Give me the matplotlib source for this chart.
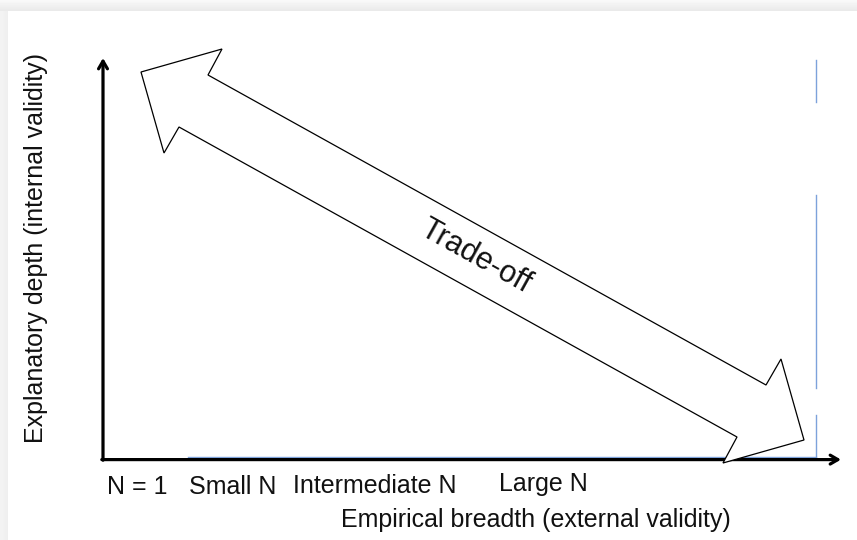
import numpy as np
import matplotlib
matplotlib.use("Agg")
import matplotlib.pyplot as plt
from matplotlib.patches import Polygon

plt.rcParams['font.family'] = ['Liberation Sans', 'DejaVu Sans']

# ---- content -------------------------------------------------------------
category_labels = ["N = 1", "Small N", "Intermediate N", "Large N"]
category_x = [137, 233, 375, 543]          # label centres (canvas px)
category_baseline = [494, 494, 493, 491]
x_title = "Empirical breadth (external validity)"
y_title = "Explanatory depth (internal validity)"
arrow_text = "Trade-off"

# double-headed block arrow outline (canvas px, y down)
arrow_x = [141, 222, 208, 766, 781, 804, 723, 737, 179, 164]
arrow_y = [72, 49, 75, 385, 359, 440, 463, 437, 127, 153]

# axes geometry
origin = (103, 459)
y_axis_top = 58
x_axis_right = 841

# blue guide lines
blue_h = ([188, 816], [456.8, 456.8])
blue_v_x = 816.5
blue_v_segments = [(60, 102), (195, 388), (415, 457)]

W, H = 857, 540
fig = plt.figure(figsize=(W / 100, H / 100), dpi=100)
fig.patch.set_facecolor("white")
ax = fig.add_axes([0, 0, 1, 1])
ax.set_xlim(0, W)
ax.set_ylim(H, 0)
ax.axis("off")

# grey frame (page background)
top = np.linspace(0.975, 0.915, 11).reshape(-1, 1)
ax.imshow(np.repeat(top, 2, axis=1), cmap="gray", vmin=0, vmax=1,
          extent=[0, W, 11, 0], aspect="auto", zorder=0)
left = np.linspace(0.955, 0.935, 8).reshape(1, -1)
ax.imshow(np.repeat(left, 2, axis=0), cmap="gray", vmin=0, vmax=1,
          extent=[0, 8, H, 11], aspect="auto", zorder=0)
ax.set_xlim(0, W)
ax.set_ylim(H, 0)

blue = "#7da2db"
# blue lines
ax.plot(blue_h[0], blue_h[1], color=blue, lw=1.0, zorder=2)
for y0, y1 in blue_v_segments:
    ax.plot([blue_v_x, blue_v_x], [y0, y1], color=blue, lw=1.0, zorder=2)

# axes arrows
ax.annotate("", xy=(origin[0], y_axis_top), xytext=(origin[0], origin[1] + 1.2),
            arrowprops=dict(arrowstyle="->,head_length=0.55,head_width=0.32",
                            lw=2.3, color="black", shrinkA=0, shrinkB=0),
            zorder=3)
ax.annotate("", xy=(x_axis_right, origin[1] + 0.6), xytext=(origin[0] - 1.2, origin[1] + 0.6),
            arrowprops=dict(arrowstyle="->,head_length=0.55,head_width=0.32",
                            lw=2.3, color="black", shrinkA=0, shrinkB=0),
            zorder=3)

# block arrow
poly = Polygon(np.column_stack([arrow_x, arrow_y]), closed=True,
               facecolor="white", edgecolor="black", lw=0.9, zorder=4,
               joinstyle="miter")
ax.add_patch(poly)

angle = np.degrees(np.arctan2(arrow_y[3] - arrow_y[2], arrow_x[3] - arrow_x[2]))
ax.text(475.5, 256.5, arrow_text, fontsize=22, rotation=-angle,
        rotation_mode="anchor", ha="center", va="center", color="#111111",
        zorder=5)

# category labels
for lab, x, yb in zip(category_labels, category_x, category_baseline):
    ax.text(x, yb, lab, fontsize=18, ha="center", va="baseline", color="#111111")

ax.text(536, 527, x_title, fontsize=18, ha="center", va="baseline", color="#111111")
ax.text(43.5, 248, y_title, fontsize=18, rotation=90, rotation_mode="anchor",
        ha="center", va="baseline", color="#111111")

fig.savefig("out.png", dpi=100, facecolor=fig.get_facecolor())
